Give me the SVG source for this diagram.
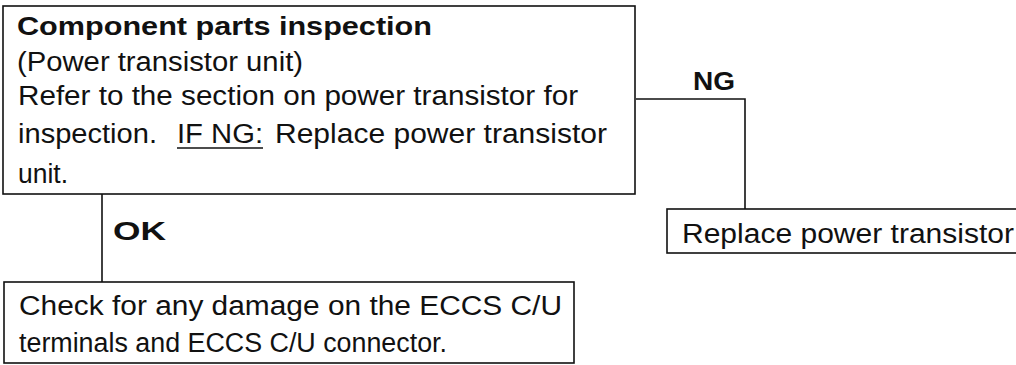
<svg xmlns="http://www.w3.org/2000/svg" width="1016" height="365" viewBox="0 0 1016 365">
<style>
.box{fill:#fff;stroke:#111;stroke-width:1.6}
.con{fill:none;stroke:#111;stroke-width:1.6}
.t{font-family:"Liberation Sans",Arial,sans-serif;font-size:27px;fill:#111}
.b{font-family:"Liberation Sans",Arial,sans-serif;font-size:26px;font-weight:bold;fill:#111}
</style>
<rect width="1016" height="365" fill="#fff"/>
<g id="connectors">
<polyline class="con" points="636,99 745,99 745,209"/>
<line class="con" x1="102" y1="194" x2="102" y2="282"/>
<text class="b" x="693" y="90" textLength="42" lengthAdjust="spacingAndGlyphs">NG</text>
<text class="b" x="113" y="240" textLength="53" lengthAdjust="spacingAndGlyphs">OK</text>
</g>
<g id="node-inspection">
<rect class="box" x="3" y="6" width="632" height="188"/>
<text class="b" x="17" y="35" textLength="415" lengthAdjust="spacingAndGlyphs">Component parts inspection</text>
<text class="t" x="17" y="71" textLength="286" lengthAdjust="spacingAndGlyphs">(Power transistor unit)</text>
<text class="t" x="18" y="105" textLength="560" lengthAdjust="spacingAndGlyphs">Refer to the section on power transistor for</text>
<text class="t" x="18" y="143" textLength="139" lengthAdjust="spacingAndGlyphs">inspection.</text>
<text class="t" x="177" y="143" textLength="86" lengthAdjust="spacingAndGlyphs">IF NG:</text>
<line x1="177" y1="148" x2="263" y2="148" stroke="#111" stroke-width="1.6"/>
<text class="t" x="275" y="143" textLength="332" lengthAdjust="spacingAndGlyphs">Replace power transistor</text>
<text class="t" x="18" y="183" textLength="50" lengthAdjust="spacingAndGlyphs">unit.</text>
</g>
<g id="node-replace">
<rect class="box" x="667" y="209" width="360" height="44"/>
<text class="t" x="682" y="243" textLength="332" lengthAdjust="spacingAndGlyphs">Replace power transistor</text>
</g>
<g id="node-check">
<rect class="box" x="4" y="282" width="570" height="81"/>
<text class="t" x="19" y="315" textLength="543" lengthAdjust="spacingAndGlyphs">Check for any damage on the ECCS C/U</text>
<text class="t" x="19" y="352" textLength="428" lengthAdjust="spacingAndGlyphs">terminals and ECCS C/U connector.</text>
</g>
</svg>
